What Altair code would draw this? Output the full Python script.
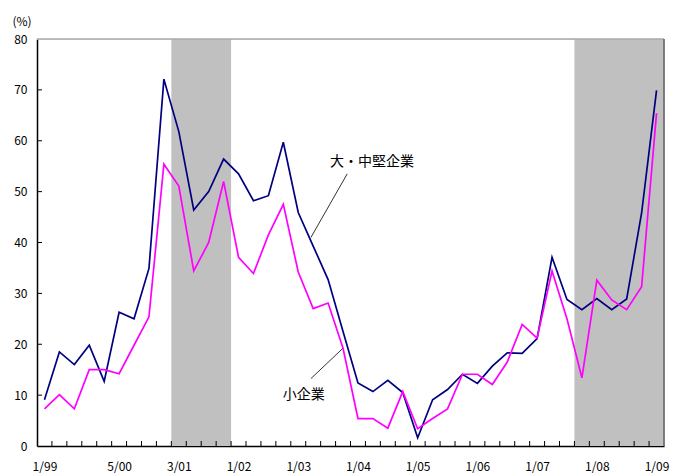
import altair as alt
import pandas as pd

# Survey points (42 observations, 1/99 .. 1/09); tick labels sit on selected points
tick_idx = [0, 5, 9, 13, 17, 21, 25, 29, 33, 37, 41]
tick_txt = ["1/99", "5/00", "3/01", "1/02", "1/03", "1/04", "1/05", "1/06", "1/07", "1/08", "1/09"]

large_mid = [9.1, 18.5, 16.0, 19.8, 12.7, 26.3, 25.0, 34.9, 72.1, 61.8,
             46.4, 50.0, 56.4, 53.5, 48.2, 49.2, 59.7, 45.9, 39.3, 32.7,
             22.5, 12.4, 10.7, 12.9, 10.5, 1.6, 9.1, 11.1, 14.1, 12.3,
             15.7, 18.3, 18.2, 21.1, 37.1, 28.8, 26.8, 29.0, 26.8, 28.9,
             45.8, 69.9]
small = [7.3, 10.1, 7.3, 15.0, 15.0, 14.2, 19.8, 25.4, 55.4, 51.1,
         34.4, 40.0, 52.0, 37.1, 33.9, 41.5, 47.5, 34.2, 27.0, 28.1,
         19.2, 5.4, 5.4, 3.5, 10.7, 3.4, 5.4, 7.3, 14.1, 14.1,
         12.1, 16.5, 23.9, 21.2, 34.4, 25.0, 13.4, 32.6, 28.7, 26.8,
         31.3, 65.4]

# Shaded periods (index ranges on the observation axis)
shade_start = [8.5, 35.5]
shade_end = [12.5, 41.5]

W, H = 627, 407
FONT = "Noto Sans CJK JP"

n = len(large_mid)
df = pd.DataFrame({
    "i": list(range(n)) * 2,
    "v": large_mid + small,
    "s": ["大・中堅企業"] * n + ["小企業"] * n,
})
shade_df = pd.DataFrame({"s": shade_start, "e": shade_end})

label_expr = "{}[indexof({}, datum.value)]".format(
    "[" + ",".join("'%s'" % t for t in tick_txt) + "]",
    "[" + ",".join(str(i) for i in tick_idx) + "]",
)

xscale = alt.Scale(domain=[-0.5, n - 0.5], nice=False, zero=False)
yscale = alt.Scale(domain=[0, 80], nice=False)

shade = alt.Chart(shade_df).mark_rect(color="#c0c0c0").encode(
    x=alt.X("s:Q", scale=xscale),
    x2="e:Q",
    y=alt.value(0),
    y2=alt.value(H),
)

lines = alt.Chart(df).mark_line(strokeWidth=1.7).encode(
    x=alt.X("i:Q", scale=xscale,
            axis=alt.Axis(values=tick_idx, labelExpr=label_expr, title=None,
                          ticks=False, tickSize=0, grid=False, labelPadding=15,
                          domainColor="black", domainWidth=1.5, labelFont=FONT,
                          labelFontSize=12, labelColor="black")),
    y=alt.Y("v:Q", scale=yscale,
            axis=alt.Axis(values=list(range(0, 81, 10)), title=None, ticks=False,
                          tickSize=0, grid=False, labelPadding=10,
                          domainColor="black", domainWidth=1.5, labelFont=FONT,
                          labelFontSize=12, labelColor="black")),
    color=alt.Color("s:N", scale=alt.Scale(domain=["大・中堅企業", "小企業"],
                                           range=["#000080", "#ff00ff"]),
                    legend=None),
    detail="s:N",
)

# Inward tick marks along the axes
xticks = alt.Chart(pd.DataFrame({"b": [k + 0.5 for k in range(n - 1)]})).mark_rule(
    color="black", strokeWidth=1).encode(
    x=alt.X("b:Q", scale=xscale), y=alt.value(H), y2=alt.value(H - 5))
yticks = alt.Chart(pd.DataFrame({"t": list(range(10, 80, 10))})).mark_rule(
    color="black", strokeWidth=1).encode(
    y=alt.Y("t:Q", scale=yscale), x=alt.value(0), x2=alt.value(5))

one = alt.Data(values=[{}])
top_border = alt.Chart(one).mark_rule(color="#aaaaaa", strokeWidth=1.5).encode(
    x=alt.value(0), x2=alt.value(W), y=alt.value(0))
right_border = alt.Chart(one).mark_rule(color="#606060", strokeWidth=1.5).encode(
    x=alt.value(W), y=alt.value(0), y2=alt.value(H))

# Series labels with leader lines
ann_lines = pd.DataFrame({
    "x": [20.28, 19.97], "y": [53.5, 19.15],
    "x2": [17.85, 17.85], "y2": [41.0, 13.25],
})
leaders = alt.Chart(ann_lines).mark_rule(color="black", strokeWidth=0.8).encode(
    x=alt.X("x:Q", scale=xscale), y=alt.Y("y:Q", scale=yscale), x2="x2:Q", y2="y2:Q")

ann_text = pd.DataFrame({"x": [19.12, 15.97], "y": [55.8, 9.96],
                         "t": ["大・中堅企業", "小企業"]})
texts = alt.Chart(ann_text).mark_text(align="left", baseline="middle", font=FONT,
                                      fontSize=14, color="black").encode(
    x=alt.X("x:Q", scale=xscale), y=alt.Y("y:Q", scale=yscale), text="t:N")

unit = alt.Chart(one).mark_text(font=FONT, fontSize=12, color="black",
                                align="center", baseline="middle").encode(
    x=alt.value(-15), y=alt.value(-17), text=alt.value("(%)"))

chart = alt.layer(shade, lines, xticks, yticks, top_border, right_border,
                  leaders, texts, unit).properties(
    width=W, height=H,
    autosize=alt.AutoSizeParams(type="none"),
    padding={"left": 37, "top": 39, "right": 19, "bottom": 30},
).configure_view(stroke=None).configure(background="white")

chart.save("out.html", embed_options={"renderer": "svg", "actions": False})
